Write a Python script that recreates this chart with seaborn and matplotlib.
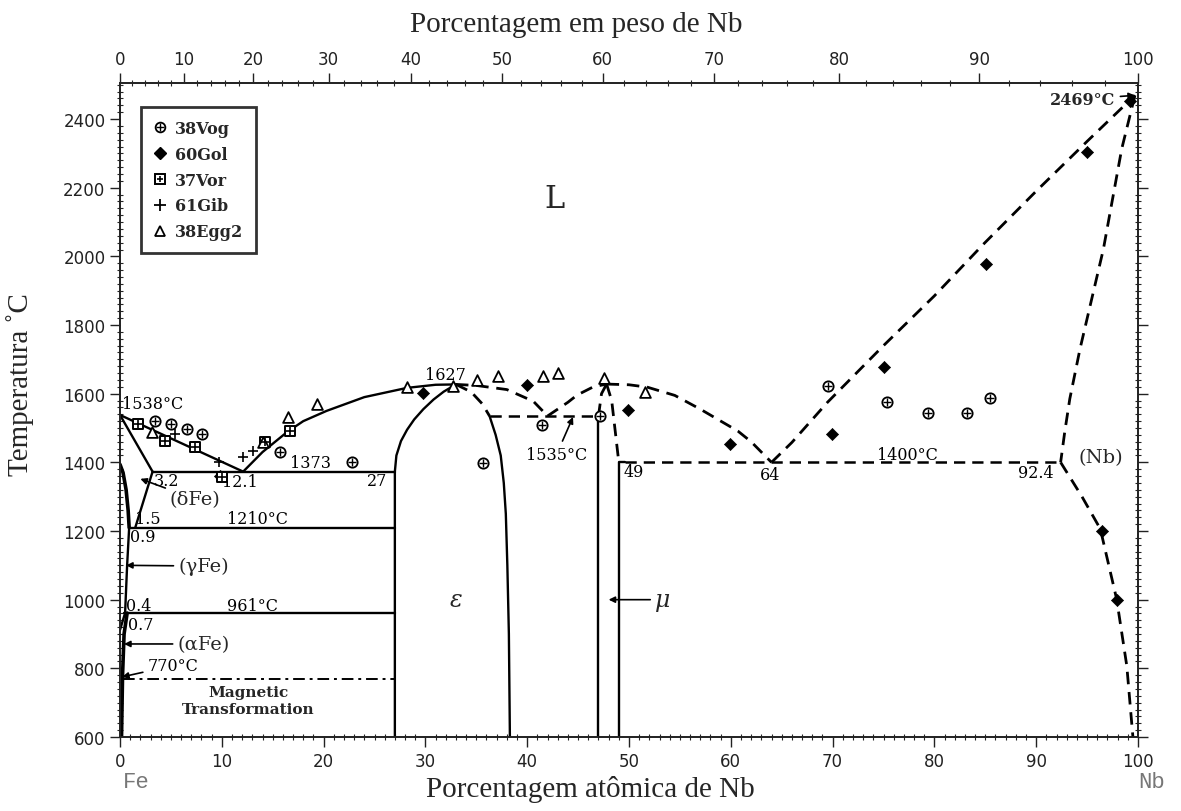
import numpy as np
import pandas as pd
import matplotlib
matplotlib.use("Agg")
import matplotlib.pyplot as plt
import seaborn as sns
from matplotlib.lines import Line2D
from matplotlib.legend_handler import HandlerTuple
from matplotlib.ticker import MultipleLocator, FixedLocator

# ---------------- data (at.% Nb, temperature in degC) ----------------
# experimental points
vog_x = [3.4, 5.0, 6.6, 8.1, 15.7, 22.8, 35.7, 41.5, 47.2, 69.5, 75.3, 79.4, 83.2, 85.5]
vog_y = [1520, 1512, 1497, 1483, 1430, 1401, 1398, 1509, 1535, 1622, 1576, 1544, 1544, 1587]
gol_x = [9.8, 29.8, 40.0, 49.9, 59.9, 69.9, 75.0, 85.1, 95.0, 96.5, 97.9, 99.2]
gol_y = [1360, 1602, 1625, 1552, 1453, 1483, 1678, 1978, 2304, 1200, 998, 2453]
vor_x = [1.8, 4.4, 7.4, 10.0, 14.2, 16.7]
vor_y = [1512, 1462, 1445, 1357, 1459, 1491]
gib_x = [5.4, 9.7, 12.1, 13.1]
gib_y = [1483, 1401, 1416, 1433]
egg_x = [3.1, 14.0, 16.5, 19.4, 28.2, 32.7, 35.1, 37.1, 41.6, 43.0, 47.5, 51.6]
egg_y = [1488, 1459, 1532, 1570, 1619, 1622, 1640, 1651, 1651, 1660, 1646, 1605]

# phase boundaries (solid)
liq_fe_x = [0, 12.1]
liq_fe_y = [1538, 1373]
liq_eps_x = [12.1, 14, 16.4, 18, 20.3, 24, 28.2, 31, 33]
liq_eps_y = [1373, 1430, 1488, 1520, 1550, 1590, 1617, 1626, 1627]
eps_left_x = [27, 27, 27.15, 27.6, 28.2, 28.9, 29.8, 30.8, 31.8, 32.6, 33]
eps_left_y = [600, 1373, 1420, 1462, 1495, 1525, 1555, 1583, 1606, 1620, 1627]
eps_right_x = [36.3, 36.9, 37.4, 37.7, 37.9, 38.05, 38.2, 38.3]
eps_right_y = [1535, 1480, 1420, 1340, 1250, 1100, 900, 600]
mu_left_x = [47.0, 47.0]
mu_left_y = [1535, 600]
mu_right_x = [49.6, 49.0, 49.0]
mu_right_y = [1400, 1400, 600]
delta_sol_x = [0, 3.2]
delta_sol_y = [1538, 1373]
delta_solv_x = [3.2, 1.5]
delta_solv_y = [1373, 1210]
gloop_x = [0, 0.3, 0.6, 0.8, 0.9]
gloop_y = [1394, 1370, 1320, 1260, 1210]
gamma_x = [0.9, 0.7, 0.5]
gamma_y = [1210, 1100, 961]
ag_x = [0, 0.5]
ag_y = [912, 961]
alpha_x = [0.7, 0.4, 0.25, 0.15]
alpha_y = [961, 900, 780, 600]
h1373_x = [3.2, 27]
h1210_x = [0.9, 27]
h961_x = [0.4, 27]
mag_x = [0.3, 27]

# phase boundaries (dashed)
liq_eps_d_x = [33, 35, 38, 40.6, 42]
liq_eps_d_y = [1627, 1624, 1612, 1578, 1535]
liq_mu1_x = [42, 44, 44.9, 46.5, 47.8]
liq_mu1_y = [1535, 1575, 1596, 1620, 1628]
liq_mu2_x = [47.8, 50, 51.8, 54.5, 57, 60.7, 62, 64]
liq_mu2_y = [1628, 1626, 1619, 1595, 1555, 1491, 1460, 1400]
liq_nb_x = [64, 66, 69.5, 75, 80, 84.8, 90, 95, 99.7]
liq_nb_y = [1400, 1458, 1575, 1740, 1885, 2035, 2190, 2335, 2469]
sol_nb_x = [99.7, 98.4, 96.6, 94.3, 93.3, 92.8, 92.4]
sol_nb_y = [2469, 2313, 2021, 1730, 1585, 1488, 1400]
solv_nb_x = [92.4, 94.5, 96.3, 97.9, 98.9, 99.5]
solv_nb_y = [1400, 1300, 1206, 1002, 807, 600]
eps_d_x = [33, 34.5, 35.6, 36.3]
eps_d_y = [1627, 1605, 1570, 1535]
mu_d1_x = [47.0, 47.3, 47.8]
mu_d1_y = [1535, 1600, 1628]
mu_d2_x = [47.8, 48.3, 49.0]
mu_d2_y = [1628, 1580, 1400]
h1535_x = [36.3, 47.0]
h1400_x = [49.6, 92.4]

wt_ticks = list(range(0, 101, 10))

# ---------------- figure ----------------
sns.set_style("ticks")
plt.rcParams['font.family'] = ['DejaVu Sans']

W, H = 1181, 812
fig = plt.figure(figsize=(W / 100, H / 100), dpi=100)
ax = fig.add_axes([120 / W, 1 - 738 / H, 1018 / W, 654 / H])

SOLID = '-'
DASH = (0, (4.5, 2.8))


def draw(xs, ys, style=SOLID, lw=1.7):
    sns.lineplot(x=xs, y=ys, sort=False, estimator=None, color='black',
                 linewidth=lw, linestyle=style, ax=ax)


for xs, ys in [(liq_fe_x, liq_fe_y), (liq_eps_x, liq_eps_y), (eps_left_x, eps_left_y),
               (eps_right_x, eps_right_y), (mu_left_x, mu_left_y), (mu_right_x, mu_right_y),
               (delta_sol_x, delta_sol_y), (delta_solv_x, delta_solv_y),
               (gamma_x, gamma_y), (ag_x, ag_y)]:
    draw(xs, ys)
draw(gloop_x, gloop_y, lw=2.6)
draw(alpha_x, alpha_y, lw=2.6)
draw(h1373_x, [1373, 1373])
draw(h1210_x, [1210, 1210])
draw(h961_x, [961, 961])
draw(mag_x, [770, 770], style=(0, (6, 2.5, 1.5, 2.5)), lw=1.4)

for xs, ys in [(liq_eps_d_x, liq_eps_d_y), (liq_mu1_x, liq_mu1_y), (liq_mu2_x, liq_mu2_y),
               (liq_nb_x, liq_nb_y), (sol_nb_x, sol_nb_y), (solv_nb_x, solv_nb_y),
               (eps_d_x, eps_d_y), (mu_d1_x, mu_d1_y), (mu_d2_x, mu_d2_y)]:
    draw(xs, ys, style=DASH, lw=2.0)
draw(h1535_x, [1535, 1535], style=DASH, lw=1.8)
draw(h1400_x, [1400, 1400], style=DASH, lw=1.8)

# markers
sns.scatterplot(x=vog_x, y=vog_y, marker='o', s=55, color='white', edgecolor='black', linewidth=1.3, ax=ax, zorder=4)
sns.scatterplot(x=vog_x, y=vog_y, marker='+', s=38, color='black', linewidth=1.0, ax=ax, zorder=5)
sns.scatterplot(x=gol_x, y=gol_y, marker='D', s=38, color='black', edgecolor='black', ax=ax, zorder=4)
sns.scatterplot(x=vor_x, y=vor_y, marker='s', s=55, color='white', edgecolor='black', linewidth=1.4, ax=ax, zorder=4)
sns.scatterplot(x=vor_x, y=vor_y, marker='+', s=30, color='black', linewidth=1.2, ax=ax, zorder=5)
sns.scatterplot(x=gib_x, y=gib_y, marker='+', s=60, color='black', linewidth=1.2, ax=ax, zorder=4)
sns.scatterplot(x=egg_x, y=egg_y, marker='^', s=60, color='white', edgecolor='black', linewidth=1.3, ax=ax, zorder=4)

# legend
h_vog = (Line2D([], [], ls='', marker='o', ms=7, mfc='white', mec='black', mew=1.3),
         Line2D([], [], ls='', marker='+', ms=6, color='black', mew=1.0))
h_gol = Line2D([], [], ls='', marker='D', ms=6, color='black')
h_vor = (Line2D([], [], ls='', marker='s', ms=7, mfc='white', mec='black', mew=1.4),
         Line2D([], [], ls='', marker='+', ms=5, color='black', mew=1.2))
h_gib = Line2D([], [], ls='', marker='+', ms=8, color='black', mew=1.3)
h_egg = Line2D([], [], ls='', marker='^', ms=7, mfc='white', mec='black', mew=1.3)
leg = ax.legend([h_vog, h_gol, h_vor, h_gib, h_egg], ['38Vog', '60Gol', '37Vor', '61Gib', '38Egg2'],
                handler_map={tuple: HandlerTuple(ndivide=1)}, loc='upper left',
                bbox_to_anchor=(0.0206, 0.963), borderaxespad=0, frameon=True, fancybox=False,
                handlelength=0.8, handletextpad=0.5, labelspacing=0.55, borderpad=0.8,
                prop={'family': 'DejaVu Serif', 'weight': 'bold', 'size': 11.5})
leg.get_frame().set_edgecolor('black')
leg.get_frame().set_linewidth(2.0)

# texts
tk = dict(family='DejaVu Serif', color='black', fontsize=11.5)
ax.text(42.7, 2170, 'L', family='DejaVu Serif', fontsize=22, ha='center', va='center')
ax.text(0.2, 1570, '1538°C', ha='left', va='center', **tk)
ax.text(32.0, 1657, '1627', ha='center', va='center', **tk)
ax.text(18.7, 1401, '1373', ha='center', va='center', **tk)
ax.text(26.3, 1346, '27', ha='right', va='center', **tk)
ax.text(3.3, 1346, '3.2', ha='left', va='center', **tk)
ax.text(11.8, 1343, '12.1', ha='center', va='center', **tk)
ax.text(1.5, 1235, '1.5', ha='left', va='center', **tk)
ax.text(13.5, 1235, '1210°C', ha='center', va='center', **tk)
ax.text(1.0, 1183, '0.9', ha='left', va='center', **tk)
ax.text(0.6, 982, '0.4', ha='left', va='center', **tk)
ax.text(13.0, 982, '961°C', ha='center', va='center', **tk)
ax.text(0.8, 929, '0.7', ha='left', va='center', **tk)
ax.text(12.6, 730, 'Magnetic', ha='center', va='center', family='DejaVu Serif', weight='bold', fontsize=11)
ax.text(12.6, 682, 'Transformation', ha='center', va='center', family='DejaVu Serif', weight='bold', fontsize=11)
ax.text(50.5, 1372, '49', ha='center', va='center', **tk)
ax.text(63.9, 1366, '64', ha='center', va='center', **tk)
ax.text(77.4, 1424, '1400°C', ha='center', va='center', **tk)
ax.text(90.0, 1369, '92.4', ha='center', va='center', **tk)
ax.text(96.3, 1416, '(Nb)', ha='center', va='center', family='DejaVu Serif', fontsize=14)
ax.text(33.0, 1000, 'ε', ha='center', va='center', family='DejaVu Serif', style='italic', fontsize=17)

arr = dict(arrowstyle='-|>', color='black', lw=1.2, mutation_scale=9, shrinkA=1, shrinkB=0)
ax.annotate('1535°C', xy=(44.5, 1532), xytext=(42.9, 1424), ha='center', va='center', arrowprops=arr, **tk)
ax.annotate('(δFe)', xy=(2.0, 1352), xytext=(7.4, 1293), ha='center', va='center', arrowprops=arr,
            family='DejaVu Serif', fontsize=14)
ax.annotate('(γFe)', xy=(0.6, 1100), xytext=(8.2, 1098), ha='center', va='center', arrowprops=arr,
            family='DejaVu Serif', fontsize=14)
ax.annotate('(αFe)', xy=(0.4, 871), xytext=(8.2, 871), ha='center', va='center', arrowprops=arr,
            family='DejaVu Serif', fontsize=14)
ax.annotate('770°C', xy=(0.2, 775), xytext=(5.2, 808), ha='center', va='center', arrowprops=arr, **tk)
ax.annotate('μ', xy=(48.0, 1000), xytext=(53.3, 1000), ha='center', va='center', arrowprops=arr,
            family='DejaVu Serif', style='italic', fontsize=17)
ax.annotate('2469°C', xy=(99.7, 2469), xytext=(94.6, 2458), ha='center', va='center', arrowprops=arr,
            family='DejaVu Serif', weight='bold', fontsize=11.5)

# axes
ax.set_xlim(0, 100)
ax.set_ylim(600, 2505)
ax.set_xticks(range(0, 101, 10))
ax.set_yticks(range(600, 2401, 200))
ax.xaxis.set_minor_locator(MultipleLocator(1))
ax.yaxis.set_minor_locator(MultipleLocator(20))
ax.tick_params(which='major', direction='out', length=7, width=1.0, labelsize=12, colors='#222222',
               right=True, top=False)
ax.tick_params(which='minor', direction='inout', length=4, width=0.8, right=True, top=False)
ax.set_xlabel('')
ax.set_ylabel('')
for s in ax.spines.values():
    s.set_visible(True)
    s.set_linewidth(1.2)
    s.set_color('black')


def wt2at(w):
    w = np.asarray(w, dtype=float)
    a = w / 92.906
    b = (100 - w) / 55.845
    return 100 * a / (a + b)


tw = ax.twiny()
tw.set_xlim(0, 100)
tw.xaxis.set_major_locator(FixedLocator(wt2at(wt_ticks)))
tw.set_xticklabels([str(t) for t in wt_ticks])
tw.xaxis.set_minor_locator(FixedLocator(wt2at(np.arange(0, 101, 2))))
tw.tick_params(which='major', direction='out', length=7, width=1.0, labelsize=12, colors='#222222')
tw.tick_params(which='minor', direction='inout', length=4, width=0.8)
for s in tw.spines.values():
    s.set_linewidth(1.2)

serif = ['Liberation Serif', 'DejaVu Serif']
fig.text(590 / W, 1 - 790 / H, 'Porcentagem atômica de Nb', ha='center', va='center', family=serif, fontsize=21)
fig.text(576 / W, 1 - 25 / H, 'Porcentagem em peso de Nb', ha='center', va='center', family=serif, fontsize=21)
fig.text(20 / W, 1 - 385 / H, 'Temperatura ˚C', ha='center', va='center', rotation=90, family=serif, fontsize=21)
fig.text(136 / W, 1 - 783 / H, 'Fe', ha='center', va='center', family=['Liberation Mono', 'DejaVu Sans'],
         fontsize=16, color='#777777')
fig.text(1152 / W, 1 - 783 / H, 'Nb', ha='center', va='center', family=['Liberation Mono', 'DejaVu Sans'],
         fontsize=16, color='#777777')

fig.savefig('out.png', dpi=100, facecolor='white')
